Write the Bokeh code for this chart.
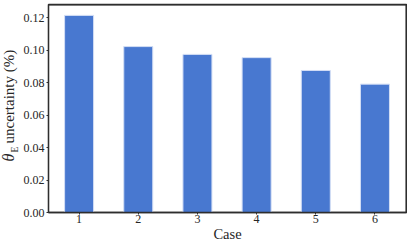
import math
from bokeh.plotting import figure
from bokeh.layouts import row
from bokeh.models import Range1d, FixedTicker, Span
from bokeh.core.properties import value
from bokeh.embed import file_html
from bokeh.resources import INLINE

# ---- data ----
cases = [1, 2, 3, 4, 5, 6]
case_labels = ["1", "2", "3", "4", "5", "6"]
uncertainty = [0.1213, 0.1021, 0.0973, 0.0953, 0.0874, 0.0790]
y_ticks = [0.0, 0.02, 0.04, 0.06, 0.08, 0.10, 0.12]
y_tick_labels = ["0.00", "0.02", "0.04", "0.06", "0.08", "0.10", "0.12"]
y_title_parts = ["θ", "E", "uncertainty (%)"]

FONT = "Liberation Serif"
TXT = "#262626"
FRAME = "#2e2e2e"
H = 244
LW = 20

# ---- main chart ----
fig = figure(width=407 - LW, height=H, output_backend="svg", toolbar_location=None,
             x_range=Range1d(0.483, 6.533), y_range=Range1d(0.0, 0.128),
             min_border_left=27, min_border_right=1, min_border_top=4,
             min_border_bottom=29)

fig.vbar(x=cases, top=uncertainty, width=0.49, fill_color="#4878d0",
         line_color="#d3def5", line_width=1)

fig.grid.visible = False
fig.outline_line_color = FRAME
fig.outline_line_alpha = 1.0
fig.outline_line_width = 1.3
fig.background_fill_color = "white"
fig.border_fill_color = "white"

# darken the top and right frame edges
fig.add_layout(Span(location=fig.y_range.end, dimension="width",
                    line_color=FRAME, line_width=2))
fig.add_layout(Span(location=fig.x_range.end, dimension="height",
                    line_color=FRAME, line_width=2))

fig.axis.axis_line_color = FRAME
fig.axis.axis_line_width = 1.3
fig.axis.major_tick_line_color = FRAME
fig.axis.major_tick_out = 2
fig.axis.major_tick_in = 0
fig.axis.minor_tick_line_color = None
fig.axis.major_label_text_font = FONT
fig.axis.major_label_text_font_size = "12px"
fig.axis.major_label_text_color = TXT
fig.axis.major_label_standoff = 2

fig.xaxis.ticker = FixedTicker(ticks=cases)
fig.xaxis.major_label_overrides = {c: l for c, l in zip(cases, case_labels)}
fig.xaxis.major_label_standoff = 0
fig.xaxis.axis_label = "Case"
fig.xaxis.axis_label_text_font = FONT
fig.xaxis.axis_label_text_font_style = "normal"
fig.xaxis.axis_label_text_font_size = "14.5px"
fig.xaxis.axis_label_text_color = TXT
fig.xaxis.axis_label_standoff = 0

fig.yaxis.ticker = FixedTicker(ticks=y_ticks)
fig.yaxis.major_label_overrides = {t: l for t, l in zip(y_ticks, y_tick_labels)}

# ---- narrow strip holding the rotated y-axis title (θ_E uncertainty (%)) ----
lab = figure(title=None, frame_width=LW, frame_height=H, output_backend="svg",
             toolbar_location=None, x_range=Range1d(0, LW), y_range=Range1d(0, H),
             x_axis_type=None, y_axis_type=None, min_border=0)
lab.grid.visible = False
lab.outline_line_color = None
lab.background_fill_color = "white"
lab.border_fill_color = "white"

# pixel positions inside the strip (x from left, y from top)
rot = dict(angle=math.pi / 2, text_font=value(FONT), text_align="left",
           text_baseline="middle", text_color=TXT)
lab.text(x=[8.1], y=[H - 157], text=[y_title_parts[0]], text_font_style="italic",
         text_font_size="16px", **rot)
lab.text(x=[14.3], y=[H - 148], text=[y_title_parts[1]], text_font_size="9.5px", **rot)
lab.text(x=[8.4], y=[H - 139], text=[y_title_parts[2]], text_font_size="15px", **rot)

p = row(lab, fig, spacing=0)

open("out.html", "w").write(file_html(p, INLINE))
